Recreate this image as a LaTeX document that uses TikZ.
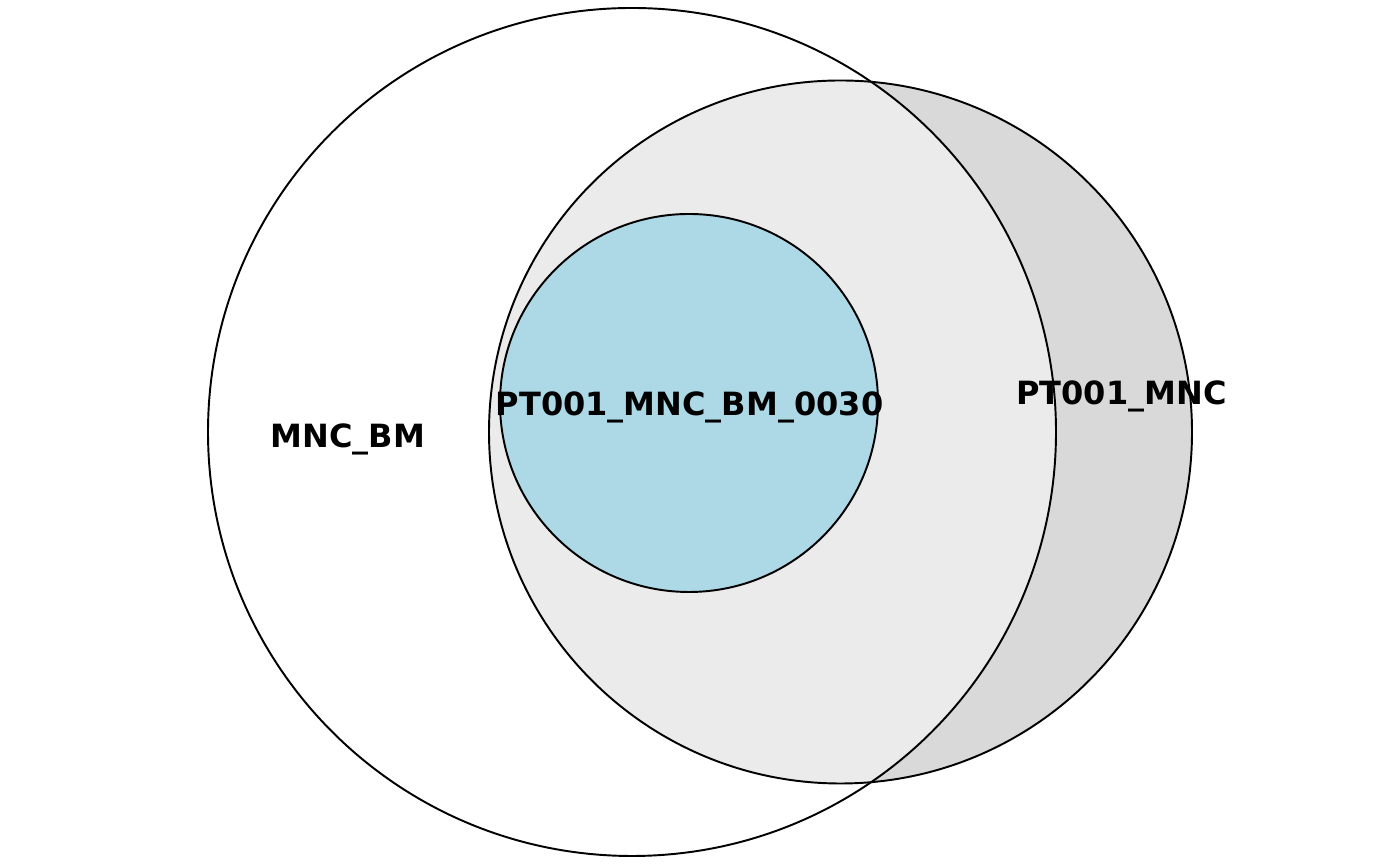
\documentclass[tikz,border=0pt]{standalone}
\usepackage{fontspec}
\setsansfont{DejaVu Sans}
\definecolor{vennWhite}{HTML}{FFFFFF}
\definecolor{vennGrayOut}{HTML}{D9D9D9}
\definecolor{vennGrayIn}{HTML}{EBEBEB}
\definecolor{vennBlue}{HTML}{ADD8E6}
\usetikzlibrary{positioning}

\begin{document}
\begin{tikzpicture}[
    x=0.01cm, y=-0.01cm,
    setline/.style={draw=black, line width=0.55pt},
    setlabel/.style={anchor=base, inner sep=0pt, text=black,
                     font=\fontsize{9.1}{11}\selectfont\sffamily\bfseries}
]
    % frame with the margins of the reference
    \useasboundingbox (0,0) rectangle (1400,865);
    \fill[white] (0,0) rectangle (1400,865);

    % the three sets
    \coordinate (bmc)  at (632,432);
    \coordinate (mncc) at (840.5,432);
    \coordinate (ptc)  at (689,403);

    \fill[vennWhite]   (bmc)  circle[radius=424];
    \fill[vennGrayOut] (mncc) circle[radius=351.5];
    \begin{scope}
        \clip (bmc) circle[radius=424];
        \fill[vennGrayIn] (mncc) circle[radius=351.5];
    \end{scope}
    \draw[setline] (bmc)  circle[radius=424];
    \draw[setline] (mncc) circle[radius=351.5];
    \draw[setline, fill=vennBlue] (ptc) circle[radius=189];

    % labels
    \node[setlabel] (bm)  at (348,448)    {MNC\_BM};
    \node[setlabel] (pt)  at (689.5,416)  {PT001\_MNC\_BM\_0030};
    \node[setlabel] (mnc) at (1121.5,405) {PT001\_MNC};
\end{tikzpicture}
\end{document}
